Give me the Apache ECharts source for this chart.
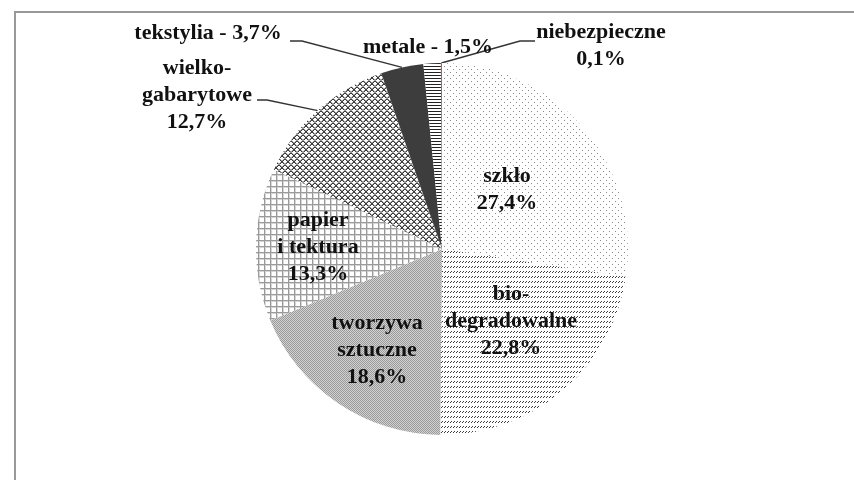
<!DOCTYPE html>
<html>
<head>
<meta charset="utf-8">
<script src="https://cdn.jsdelivr.net/npm/echarts@6/dist/echarts.min.js"></script>
<style>html,body{margin:0;padding:0;background:#fff;}#c{width:854px;height:480px;}</style>
</head>
<body>
<div id="c"></div>
<script>
// ---- data ----
var categories = ['szkło', 'bio-\ndegradowalne', 'tworzywa\nsztuczne', 'papier\ni tektura', 'wielko-\ngabarytowe', 'tekstylia', 'metale', 'niebezpieczne'];
var values = [27.4, 22.8, 18.6, 13.3, 12.7, 3.7, 1.5, 0.1];
var inlineValue = [false, false, false, false, false, true, true, false]; // "name - value" on one line

// ---- patterns ----
function tile(w, h, draw) {
  var c = document.createElement('canvas');
  c.width = w; c.height = h;
  var g = c.getContext('2d');
  g.fillStyle = '#fff'; g.fillRect(0, 0, w, h);
  draw(g);
  return c;
}
var patDots = tile(6, 6, function (g) {
  g.fillStyle = '#8a8a8a';
  g.fillRect(0, 0, 1, 1); g.fillRect(3, 3, 1, 1);
});
var patDash = tile(3, 5, function (g) {
  g.fillStyle = '#3c3c3c';
  g.fillRect(0, 2, 1, 1); g.fillRect(1, 1, 1, 1);
});
var patFine = tile(2, 2, function (g) {
  g.fillStyle = '#d2d2d2'; g.fillRect(0, 0, 2, 2);
  g.fillStyle = '#9a9a9a'; g.fillRect(0, 0, 1, 1); g.fillRect(1, 1, 1, 1);
});
var patGrid = tile(6, 6, function (g) {
  g.fillStyle = '#9a9a9a';
  g.fillRect(0, 0, 6, 1); g.fillRect(0, 0, 1, 6);
  g.fillStyle = '#d6d6d6';
  g.fillRect(1, 1, 5, 1); g.fillRect(1, 1, 1, 5);
});
var patCross = tile(6, 6, function (g) {
  g.fillStyle = '#3a3a3a';
  for (var i = 0; i < 6; i++) { g.fillRect(i, i, 1, 1); g.fillRect(5 - i, i, 1, 1); }
  g.fillStyle = '#999';
  for (var j = 0; j < 5; j++) { g.fillRect(j + 1, j, 1, 1); g.fillRect(4 - j, j, 1, 1); }
});
var patHLines = tile(1, 3, function (g) {
  g.fillStyle = '#222'; g.fillRect(0, 0, 1, 1);
});
var fills = [
  {image: patDots, repeat: 'repeat'},
  {image: patDash, repeat: 'repeat'},
  {image: patFine, repeat: 'repeat'},
  {image: patGrid, repeat: 'repeat'},
  {image: patCross, repeat: 'repeat'},
  '#3d3d3d',
  {image: patHLines, repeat: 'repeat'},
  '#e05050'
];

// label layout (positions of the text blocks, leader line elbows)
var labelPos = [
  {x: 507, y: 190},
  {x: 511, y: 321},
  {x: 377, y: 350},
  {x: 318, y: 247},
  {x: 197, y: 95, line: [[267, 100], [257, 100]]},
  {x: 208, y: 33, line: [[302, 41], [290, 41]]},
  {x: 428, y: 47},
  {x: 601, y: 46, line: [[520, 41], [535, 41]]}
];

function fmt(v) { return v.toFixed(1).replace('.', ',') + '%'; }

var data = categories.map(function (n, i) {
  return {
    name: n,
    value: values[i],
    itemStyle: {color: fills[i]},
    labelLine: {show: !!labelPos[i].line}
  };
});

var chart = echarts.init(document.getElementById('c'), null, {renderer: 'canvas'});
chart.setOption({
  animation: false,
  graphic: [{
    type: 'rect', z: 0, silent: true,
    shape: {x: 15, y: 12, width: 900, height: 520},
    style: {fill: 'none', stroke: '#999', lineWidth: 2}
  }],
  series: [{
    type: 'pie',
    center: [442, 249],
    radius: 186,
    startAngle: 90,
    clockwise: true,
    avoidLabelOverlap: false,
    minAngle: 0,
    itemStyle: {borderWidth: 0},
    emphasis: {disabled: true},
    label: {
      show: true,
      position: 'outside',
      fontFamily: 'Liberation Serif',
      fontWeight: 'bold',
      fontSize: 22,
      lineHeight: 27,
      color: '#111',
      align: 'center',
      formatter: function (p) {
        var i = p.dataIndex;
        return inlineValue[i] ? (p.name + ' - ' + fmt(p.value)) : (p.name + '\n' + fmt(p.value));
      }
    },
    labelLine: {show: true, length: 10, length2: 10, lineStyle: {color: '#333', width: 1.3}},
    labelLayout: function (params) {
      var lp = labelPos[params.dataIndex];
      var out = {x: lp.x, y: lp.y, align: 'center', verticalAlign: 'middle'};
      if (lp.line && params.labelLinePoints) {
        out.labelLinePoints = [params.labelLinePoints[0], lp.line[0], lp.line[1]];
      }
      return out;
    },
    data: data
  }]
});
</script>
</body>
</html>
